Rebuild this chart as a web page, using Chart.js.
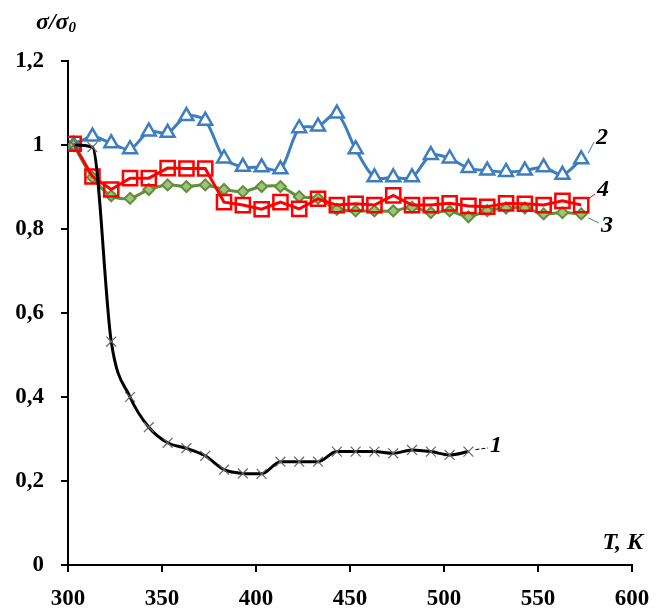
<!DOCTYPE html>
<html><head><meta charset="utf-8">
<script src="https://cdn.jsdelivr.net/npm/chart.js@4/dist/chart.umd.min.js"></script>
<style>html,body{margin:0;padding:0;background:#fff}#wrap{width:656px;height:609px;position:relative}</style>
</head><body><div id="wrap"><canvas id="c" width="656" height="609"></canvas></div>
<script>
const temps = [303,313,323,333,343,353,363,373,383,393,403,413,423,433,443,453,463,473,483,493,503,513,523,533,543,553,563,573];
const temps1 = [303,313,323,333,343,353,363,373,383,393,403,413,423,433,443,453,463,473,483,493,503,513];
const series1 = [1.0,0.995,0.532,0.40,0.328,0.291,0.278,0.26,0.227,0.218,0.217,0.246,0.246,0.246,0.27,0.27,0.27,0.266,0.274,0.27,0.262,0.27];
const series2 = [1.0,1.02,1.004,0.99,1.032,1.029,1.069,1.058,0.968,0.948,0.947,0.942,1.04,1.044,1.075,0.99,0.923,0.923,0.923,0.976,0.968,0.945,0.939,0.936,0.939,0.947,0.929,0.966];
const series3 = [1.0,0.923,0.879,0.873,0.894,0.905,0.901,0.905,0.894,0.889,0.901,0.901,0.877,0.873,0.847,0.843,0.843,0.843,0.852,0.839,0.843,0.829,0.844,0.85,0.85,0.836,0.839,0.836];
const series4 = [1.003,0.925,0.894,0.921,0.921,0.945,0.944,0.944,0.864,0.857,0.847,0.864,0.848,0.872,0.857,0.86,0.857,0.88,0.857,0.857,0.861,0.855,0.853,0.861,0.86,0.857,0.867,0.857];
const xTicks = [300,350,400,450,500,550,600];
const yTicks = [0,0.2,0.4,0.6,0.8,1,1.2];
const yTickLabels = ['0','0,2','0,4','0,6','0,8','1','1,2'];
const seriesLabels = ['1','2','3','4'];

const pts = (xs, ys) => xs.map((x,i)=>({x:x,y:ys[i]}));
const FONT = "'Liberation Serif','Times New Roman',serif";

const overlay = {
  id:'overlay',
  afterDatasetsDraw(chart){
    const ctx = chart.ctx, xs = chart.scales.x, ys = chart.scales.y;
    ctx.save();
    ctx.fillStyle = '#000';
    ctx.font = "bold italic 24px " + FONT;
    ctx.textBaseline = 'alphabetic';
    ctx.textAlign = 'left';
    ctx.fillText('σ/σ', 36, 29);
    const w = ctx.measureText('σ/σ').width;
    ctx.font = "bold italic 15px " + FONT;
    ctx.fillText('0', 36 + w, 32);
    ctx.font = "bold italic 24px " + FONT;
    ctx.textAlign = 'right';
    ctx.fillText('T, K', 643, 549);
    const lab = [
      {t:seriesLabels[0], x:xs.getPixelForValue(513), y:ys.getPixelForValue(0.27), lx:490, ly:446, c:'#000', dash:[4,2]},
      {t:seriesLabels[1], x:xs.getPixelForValue(573), y:ys.getPixelForValue(0.966), lx:596, ly:138, c:'#3d7ebf', dash:[]},
      {t:seriesLabels[2], x:xs.getPixelForValue(573), y:ys.getPixelForValue(0.836), lx:601, ly:226, c:'#2e9e4a', dash:[]},
      {t:seriesLabels[3], x:xs.getPixelForValue(573), y:ys.getPixelForValue(0.857), lx:597, ly:190, c:'#ff0000', dash:[]}
    ];
    lab.forEach(L=>{
      ctx.strokeStyle = L.c; ctx.lineWidth = 1; ctx.setLineDash(L.dash);
      ctx.beginPath();
      ctx.moveTo(L.x + 7, L.y - (L.t==='3' ? -4 : (L.t==='1'? 2 : 6)));
      ctx.lineTo(L.lx - 2, L.ly + (L.t==='3' ? -3 : (L.t==='1'? 2 : 4)));
      ctx.stroke();
      ctx.setLineDash([]);
      ctx.fillStyle = '#000';
      ctx.font = "bold italic 24px " + FONT;
      ctx.textAlign = 'left'; ctx.textBaseline = 'middle';
      ctx.fillText(L.t, L.lx, L.ly);
    });
    ctx.restore();
  }
};

new Chart(document.getElementById('c'), {
  type:'line',
  data:{
    datasets:[
      {label:'1', data:pts(temps1, series1), borderColor:'#000', borderWidth:3, cubicInterpolationMode:'monotone',
       pointStyle:'crossRot', pointRadius:7, pointBorderColor:'#666', pointBorderWidth:1.2, order:0},
      {label:'4', data:pts(temps, series4), borderColor:'#ff0000', borderWidth:3, tension:0,
       pointStyle:'rect', pointRadius:10, pointBorderColor:'#ff0000', pointBackgroundColor:'rgba(255,255,255,0)', pointBorderWidth:2.5, order:1},
      {label:'3', data:pts(temps, series3), borderColor:'#5f8f3a', borderWidth:3, tension:0.3,
       pointStyle:'rectRot', pointRadius:5.5, pointBorderColor:'#5f8f3a', pointBackgroundColor:'#9fc27f', pointBorderWidth:2, order:2},
      {label:'2', data:pts(temps, series2), borderColor:'#3d7ebf', borderWidth:3, tension:0.3,
       pointStyle:'triangle', pointRadius:8, pointBorderColor:'#3d7ebf', pointBackgroundColor:'#fff', pointBorderWidth:2.5, order:3}
    ]
  },
  options:{
    responsive:false, animation:false, devicePixelRatio:1,
    layout:{padding:{left:0, top:61, right:24, bottom:0}},
    plugins:{legend:{display:false}, tooltip:{enabled:false}},
    scales:{
      x:{type:'linear', min:300, max:600,
        afterFit(s){ s.height = 44; s.paddingRight = 0; },
        afterBuildTicks(s){ s.ticks = xTicks.map(v=>({value:v})); },
        grid:{display:true, drawOnChartArea:false, drawTicks:true, tickLength:7, color:'#000', lineWidth:2},
        border:{display:true, color:'#000', width:2},
        ticks:{color:'#000', padding:13, font:{family:FONT, size:23, weight:'bold'}, maxRotation:0}
      },
      y:{type:'linear', min:0, max:1.2,
        afterFit(s){ s.width = 68; },
        afterBuildTicks(s){ s.ticks = yTicks.map(v=>({value:v})); },
        grid:{display:true, drawOnChartArea:false, drawTicks:true, tickLength:7, color:'#000', lineWidth:2},
        border:{display:true, color:'#000', width:2},
        ticks:{color:'#000', padding:17, font:{family:FONT, size:23, weight:'bold'},
          callback:(v)=>{ const i = yTicks.findIndex(t=>Math.abs(t-v)<1e-9); return i>=0 ? yTickLabels[i] : ''; }}
      }
    }
  },
  plugins:[overlay]
});
</script></body></html>
